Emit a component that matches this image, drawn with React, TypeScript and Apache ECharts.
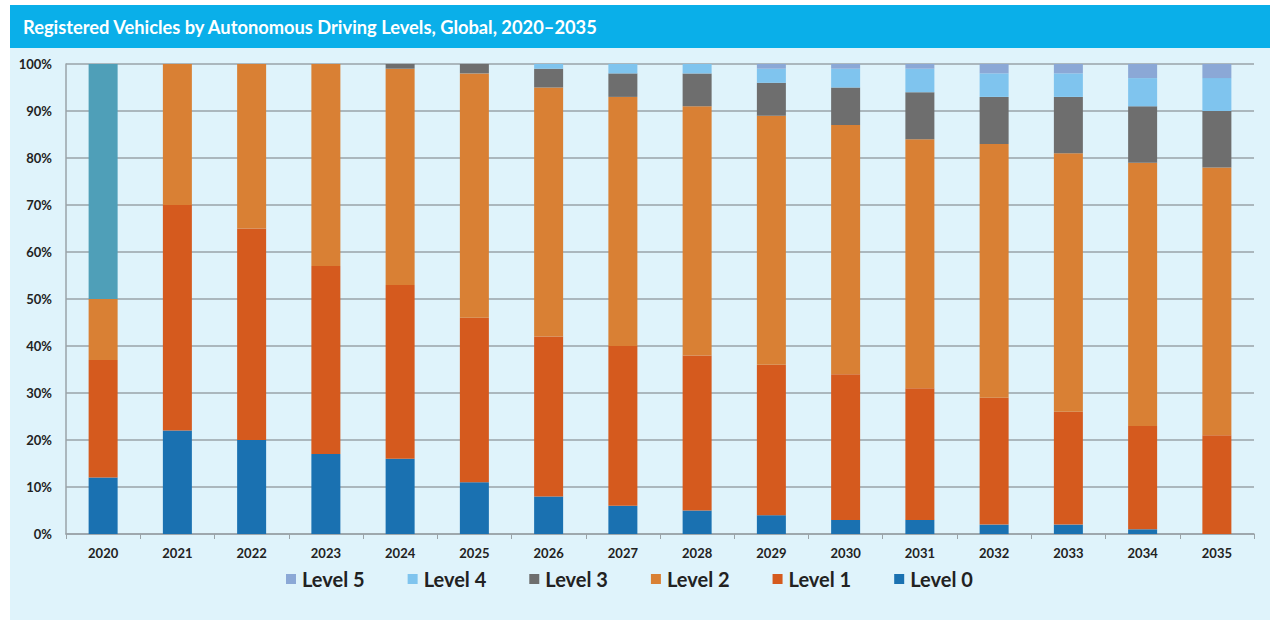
import React, { useEffect, useRef } from "react";
import * as echarts from "echarts";

const years = ["2020","2021","2022","2023","2024","2025","2026","2027","2028","2029","2030","2031","2032","2033","2034","2035"];
const level0 = [12,22,20,17,16,11,8,6,5,4,3,3,2,2,1,0];
const level1 = [25,48,45,40,37,35,34,34,33,32,31,28,27,24,22,21];
const level2 = [13,30,35,43,46,52,53,53,53,53,53,53,54,55,56,57];
const level3 = [0,0,0,0,1,2,4,5,7,7,8,10,10,12,12,12];
const level4 = [0,0,0,0,0,0,1,2,2,3,4,5,5,5,6,7];
const level5 = [0,0,0,0,0,0,0,0,0,1,1,1,2,2,3,3];
const unlabeled = [50,0,0,0,0,0,0,0,0,0,0,0,0,0,0,0];
const yTicks = [0,10,20,30,40,50,60,70,80,90,100];

const TITLE = "Registered Vehicles by Autonomous Driving Levels, Global, 2020\u20132035";
const FONT = "Lato, 'Open Sans', sans-serif";

export default function App() {
  const ref = useRef<HTMLDivElement>(null);
  useEffect(() => {
    if (!ref.current) return;
    const chart = echarts.init(ref.current, null, { renderer: "svg" });
    const mk = (name: string, data: number[], color: string) => ({
      name,
      type: "bar",
      stack: "total",
      data,
      barWidth: 29,
      itemStyle: { color },
      emphasis: { disabled: true },
    });
    chart.setOption({
      animation: false,
      backgroundColor: "#ffffff",
      textStyle: { fontFamily: FONT },
      graphic: [
        { type: "rect", z: -10, shape: { x: 10, y: 5, width: 1260, height: 615 }, style: { fill: "#dff3fb" } },
        { type: "rect", z: -9, shape: { x: 10, y: 5, width: 1260, height: 43 }, style: { fill: "#0aafe9" } },
        {
          type: "text", x: 23, y: 27, z: 10,
          style: { text: TITLE, fill: "#ffffff", font: `bold 18.3px ${FONT}`, textVerticalAlign: "middle" },
        },
      ],
      grid: { left: 66, right: 20, top: 64, bottom: 88, containLabel: false },
      legend: {
        data: ["Level 5", "Level 4", "Level 3", "Level 2", "Level 1", "Level 0"],
        left: 281, top: 564,
        itemWidth: 10, itemHeight: 10, itemGap: 43,
        icon: "rect",
        selectedMode: false,
        textStyle: { fontSize: 20, fontWeight: "bold", color: "#222", fontFamily: FONT, padding: [0, 0, 0, 1] },
      },
      xAxis: {
        type: "category",
        data: years,
        axisLine: { lineStyle: { color: "#9aa3a8", width: 1.5 } },
        axisTick: { show: true, length: 5, lineStyle: { color: "#9aa3a8" } },
        axisLabel: { color: "#222", fontWeight: "bold", fontSize: 13, margin: 12, fontFamily: FONT },
      },
      yAxis: {
        type: "value",
        min: 0, max: 100, interval: 10,
        axisLine: { show: true, lineStyle: { color: "#9aa3a8", width: 1.5 } },
        axisTick: { show: false },
        splitLine: { lineStyle: { color: "#9aa3a8", width: 1.5 } },
        axisLabel: {
          color: "#222", fontWeight: "bold", fontSize: 13, margin: 14, fontFamily: FONT,
          formatter: (v: number) => (yTicks.includes(v) ? v + "%" : ""),
        },
      },
      series: [
        mk("Level 0", level0, "#1a71b1"),
        mk("Level 1", level1, "#d55a1e"),
        mk("Level 2", level2, "#d98034"),
        mk("Level 3", level3, "#6e6e6e"),
        mk("Level 4", level4, "#7fc4ee"),
        mk("Level 5", level5, "#8ba8d6"),
        mk("Unlabeled", unlabeled, "#4f9fb8"),
      ],
    });
    return () => chart.dispose();
  }, []);
  return (
    <div
      ref={ref}
      style={{ position: "fixed", left: 0, top: 0, width: 1274, height: 622, background: "#fff" }}
    />
  );
}
